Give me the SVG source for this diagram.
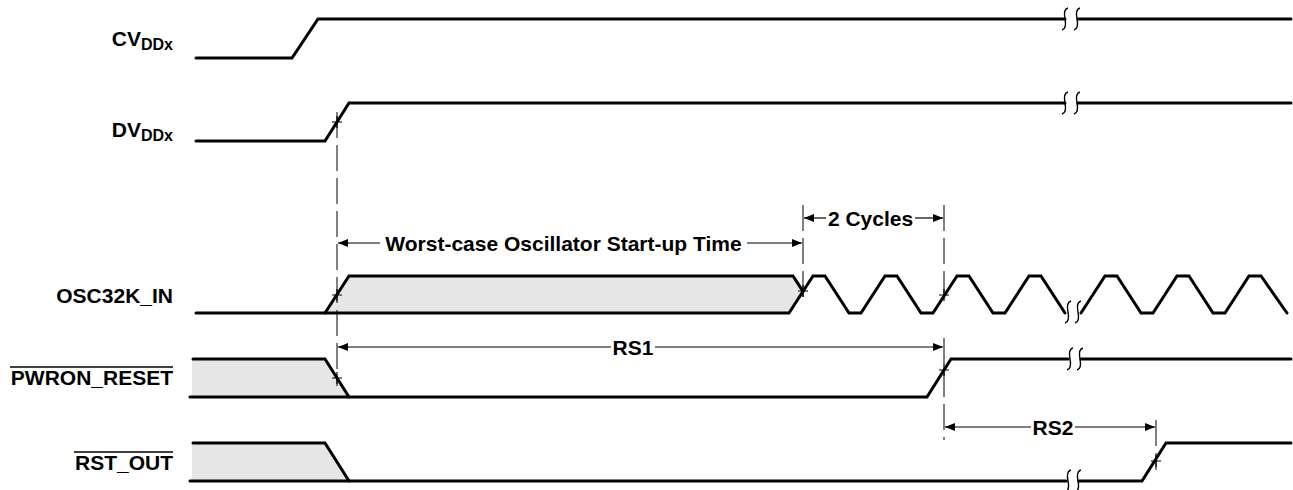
<svg xmlns="http://www.w3.org/2000/svg" width="1293" height="490" viewBox="0 0 1293 490">
<style>
.w{fill:none;stroke:#000;stroke-width:3;stroke-linecap:round;stroke-linejoin:miter}
.sh{fill:#e6e6e6;stroke:none}
.d{fill:none;stroke:#000;stroke-width:1;stroke-dasharray:26 7}
.a{fill:none;stroke:#000;stroke-width:1.2}
.t{fill:none;stroke:#000;stroke-width:1.2}
.b{fill:none;stroke:#000;stroke-width:1.4}
.lb{font-family:"Liberation Sans",Arial,sans-serif;font-weight:bold;font-size:21px;fill:#000}
.ol{stroke:#000;stroke-width:1.5}
</style>
<defs>
<marker id="ah" viewBox="0 0 10 8" refX="10" refY="4" markerWidth="10" markerHeight="8" markerUnits="userSpaceOnUse" orient="auto"><path d="M0,0L10,4L0,8z" fill="#000"/></marker>
<path id="brk" d="M3,-11 C-1,-10 -1,-5 0,0 C1,5 1,10 -3,11"/>
<path id="tick" d="M-5,0H5M0,-6V6"/>
</defs>

<g id="cvddx">
<text class="lb" x="173" y="46" text-anchor="end">CV<tspan font-size="16" dy="4">DDx</tspan></text>
<path class="w" d="M196,58H292L318,19H1065M1078,19H1291"/>
<use href="#brk" class="b" x="1065" y="19"/>
<use href="#brk" class="b" x="1077" y="19"/>
</g>

<g id="dvddx">
<text class="lb" x="173" y="137" text-anchor="end">DV<tspan font-size="16" dy="4">DDx</tspan></text>
<path class="w" d="M196,141H325L349,103H1065M1078,103H1291"/>
<use href="#brk" class="b" x="1065" y="103"/>
<use href="#brk" class="b" x="1077" y="103"/>
<use href="#tick" class="t" x="337" y="122"/>
</g>

<g id="osc32k_in">
<text class="lb" x="173" y="303" text-anchor="end">OSC32K_IN</text>
<path class="sh" d="M325,313L349,276H793L803,291.4L789,313Z"/>
<path class="w" d="M325,313L349,276H793L803,291.4"/>
<path class="w" d="M196,313H789L813,276H825L849,313H861L885,276H897L921,313H933L957,276H969L993,313H1005L1029,276H1041L1065,313"/>
<path class="w" d="M1081,313L1105,276H1117L1141,313H1153L1177,276H1189L1213,313H1225L1249,276H1261L1287,313"/>
<use href="#brk" class="b" x="1068" y="312"/>
<use href="#brk" class="b" x="1078" y="312"/>
<use href="#tick" class="t" x="337" y="295"/>
<use href="#tick" class="t" x="803" y="291"/>
<use href="#tick" class="t" x="944" y="295"/>
</g>

<g id="pwron_reset">
<text class="lb" x="173" y="385" text-anchor="end">PWRON_RESET</text>
<line class="ol" x1="10" y1="367" x2="173" y2="367"/>
<path class="sh" d="M192,359H325L349,397H192Z"/>
<path class="w" d="M193,359H325L349,397"/>
<path class="w" d="M190,397H927L951,359H1068M1081,359H1291"/>
<use href="#brk" class="b" x="1070" y="359"/>
<use href="#brk" class="b" x="1080" y="359"/>
<use href="#tick" class="t" x="337" y="378"/>
<use href="#tick" class="t" x="944" y="370"/>
</g>

<g id="rst_out">
<text class="lb" x="173" y="470" text-anchor="end">RST_OUT</text>
<line class="ol" x1="74" y1="452" x2="173" y2="452"/>
<path class="sh" d="M192,443H325L349,481H192Z"/>
<path class="w" d="M193,443H325L349,481"/>
<path class="w" d="M190,481H1066M1079,481H1142L1166,443H1291"/>
<use href="#brk" class="b" x="1068" y="481"/>
<use href="#brk" class="b" x="1078" y="481"/>
<use href="#tick" class="t" x="1156" y="461"/>
</g>

<g id="connectors">
<line class="d" x1="337" y1="112" x2="337" y2="386"/>
<line class="d" x1="803" y1="205" x2="803" y2="300"/>
<line class="d" x1="944" y1="205" x2="944" y2="302"/>
<line class="d" x1="944" y1="338" x2="944" y2="440"/>
<line class="d" x1="1156" y1="420" x2="1156" y2="470"/>
<line class="a" x1="380" y1="243" x2="338" y2="243" marker-end="url(#ah)"/>
<line class="a" x1="747" y1="243" x2="802" y2="243" marker-end="url(#ah)"/>
<line class="a" x1="826" y1="218" x2="804" y2="218" marker-end="url(#ah)"/>
<line class="a" x1="915" y1="218" x2="943" y2="218" marker-end="url(#ah)"/>
<line class="a" x1="611" y1="347" x2="338" y2="347" marker-end="url(#ah)"/>
<line class="a" x1="655" y1="347" x2="943" y2="347" marker-end="url(#ah)"/>
<line class="a" x1="1031" y1="427" x2="945" y2="427" marker-end="url(#ah)"/>
<line class="a" x1="1075" y1="427" x2="1155" y2="427" marker-end="url(#ah)"/>
<text class="lb" x="563.5" y="251" text-anchor="middle">Worst-case Oscillator Start-up Time</text>
<text class="lb" x="870.5" y="226" text-anchor="middle">2 Cycles</text>
<text class="lb" x="633" y="355" text-anchor="middle">RS1</text>
<text class="lb" x="1053" y="435" text-anchor="middle">RS2</text>
</g>
</svg>
